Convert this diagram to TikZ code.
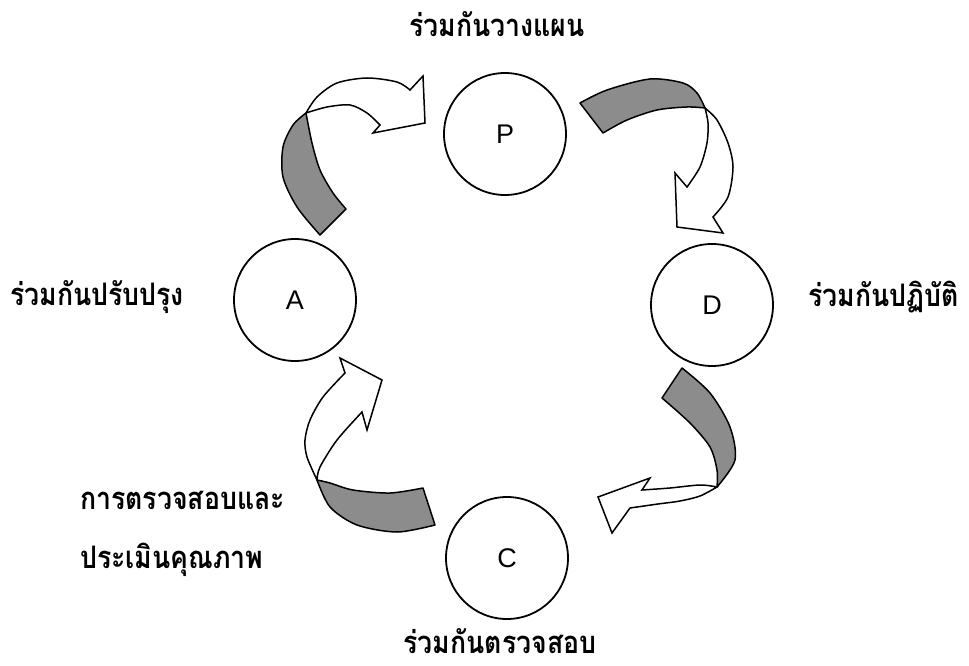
\documentclass[tikz,border=0pt]{standalone}
\usepackage{fontspec}
\newfontfamily\thaifont[Script=Thai,FakeStretch=0.86]{Loma}
\newfontfamily\latinfont{Liberation Sans}
\begin{document}
\begin{tikzpicture}[x=1pt,y=-1pt,
  stage/.style={draw=black,line width=1.8pt,circle,minimum size=122pt,inner sep=0pt,font=\latinfont\fontsize{27}{30}\selectfont},
  lbl/.style={font=\thaifont\bfseries\fontsize{31}{40}\selectfont,inner sep=0pt},
  band/.style={draw=black,line width=1.5pt,line join=round,fill=black!45},
  whitearrow/.style={draw=black,line width=1.5pt,line join=miter,fill=white}]
\useasboundingbox (0,0) rectangle (969,666);
\fill[white] (0,0) rectangle (969,666);

% stages
\node[stage] (P) at (505,134) {P};
\node[stage] (A) at (295,300) {A};
\node[stage] (D) at (712,305) {D};
\node[stage] (C) at (507,558) {C};

% labels
\node[lbl] (lP) at (497,24) {ร่วมกันวางแผน};
\node[lbl,anchor=west] (lA) at (10,297) {ร่วมกันปรับปรุง};
\node[lbl,anchor=west] (lD) at (808,297) {ร่วมกันปฏิบัติ};
\node[lbl] (lC) at (500,641) {ร่วมกันตรวจสอบ};
\node[lbl,anchor=west] (lE1) at (80,500) {การตรวจสอบและ};
\node[lbl,anchor=west] (lE2) at (80,560) {ประเมินคุณภาพ};

% arrow A -> P
\path[band] (320,235) -- plot[smooth] coordinates {(320,235) (297,207) (283,177) (283,147) (293,125) (306,113)}
  -- plot[smooth] coordinates {(306,113) (312,143) (320,170) (333,193) (346,209)} -- cycle;
\path[whitearrow] (306,113) -- plot[smooth] coordinates {(306,113) (317,97) (337,83) (367,78) (397,82) (410,90)}
  -- (423,76) -- (425,123) -- (373,133) -- (380,125)
  -- plot[smooth] coordinates {(380,125) (367,113) (350,105) (327,107) (306,113)} -- cycle;

% arrow P -> D
\path[band] (580,103) -- plot[smooth] coordinates {(580,103) (607,90) (650,79) (683,83) (697,93) (705,108)}
  -- plot[smooth] coordinates {(705,108) (687,107) (657,110) (627,120) (603,133)} -- cycle;
\path[whitearrow] (705,108) -- plot[smooth] coordinates {(705,108) (717,120) (728,143) (733,167) (728,197) (713,217)}
  -- (723,233) -- (677,227) -- (675,173) -- (687,187)
  -- plot[smooth] coordinates {(687,187) (700,167) (707,143) (708,123) (705,108)} -- cycle;

% arrow D -> C
\path[band] (682,368) -- plot[smooth] coordinates {(682,368) (710,393) (730,427) (735,460) (717,487)}
  -- plot[smooth] coordinates {(717,487) (717,470) (710,447) (690,423) (662,398)} -- cycle;
\path[whitearrow] (717,487) -- plot[smooth] coordinates {(717,487) (700,496) (680,501) (658,504) (630,508)}
  -- (612,533) -- (598,497) -- (650,478) -- (642,490)
  -- plot[smooth] coordinates {(642,490) (670,488) (700,485) (717,487)} -- cycle;

% arrow C -> A
\path[band] (423,488) -- plot[smooth] coordinates {(423,488) (390,493) (353,490) (330,483) (317,480)}
  -- plot[smooth] coordinates {(317,480) (330,507) (357,525) (397,532) (435,525)} -- cycle;
\path[whitearrow] (317,480) -- plot[smooth] coordinates {(317,480) (307,457) (305,440) (310,420) (323,397) (345,373)}
  -- (340,358) -- (382,380) -- (367,430) -- (362,412)
  -- plot[smooth] coordinates {(362,412) (337,440) (320,467) (317,480)} -- cycle;
\end{tikzpicture}
\end{document}
